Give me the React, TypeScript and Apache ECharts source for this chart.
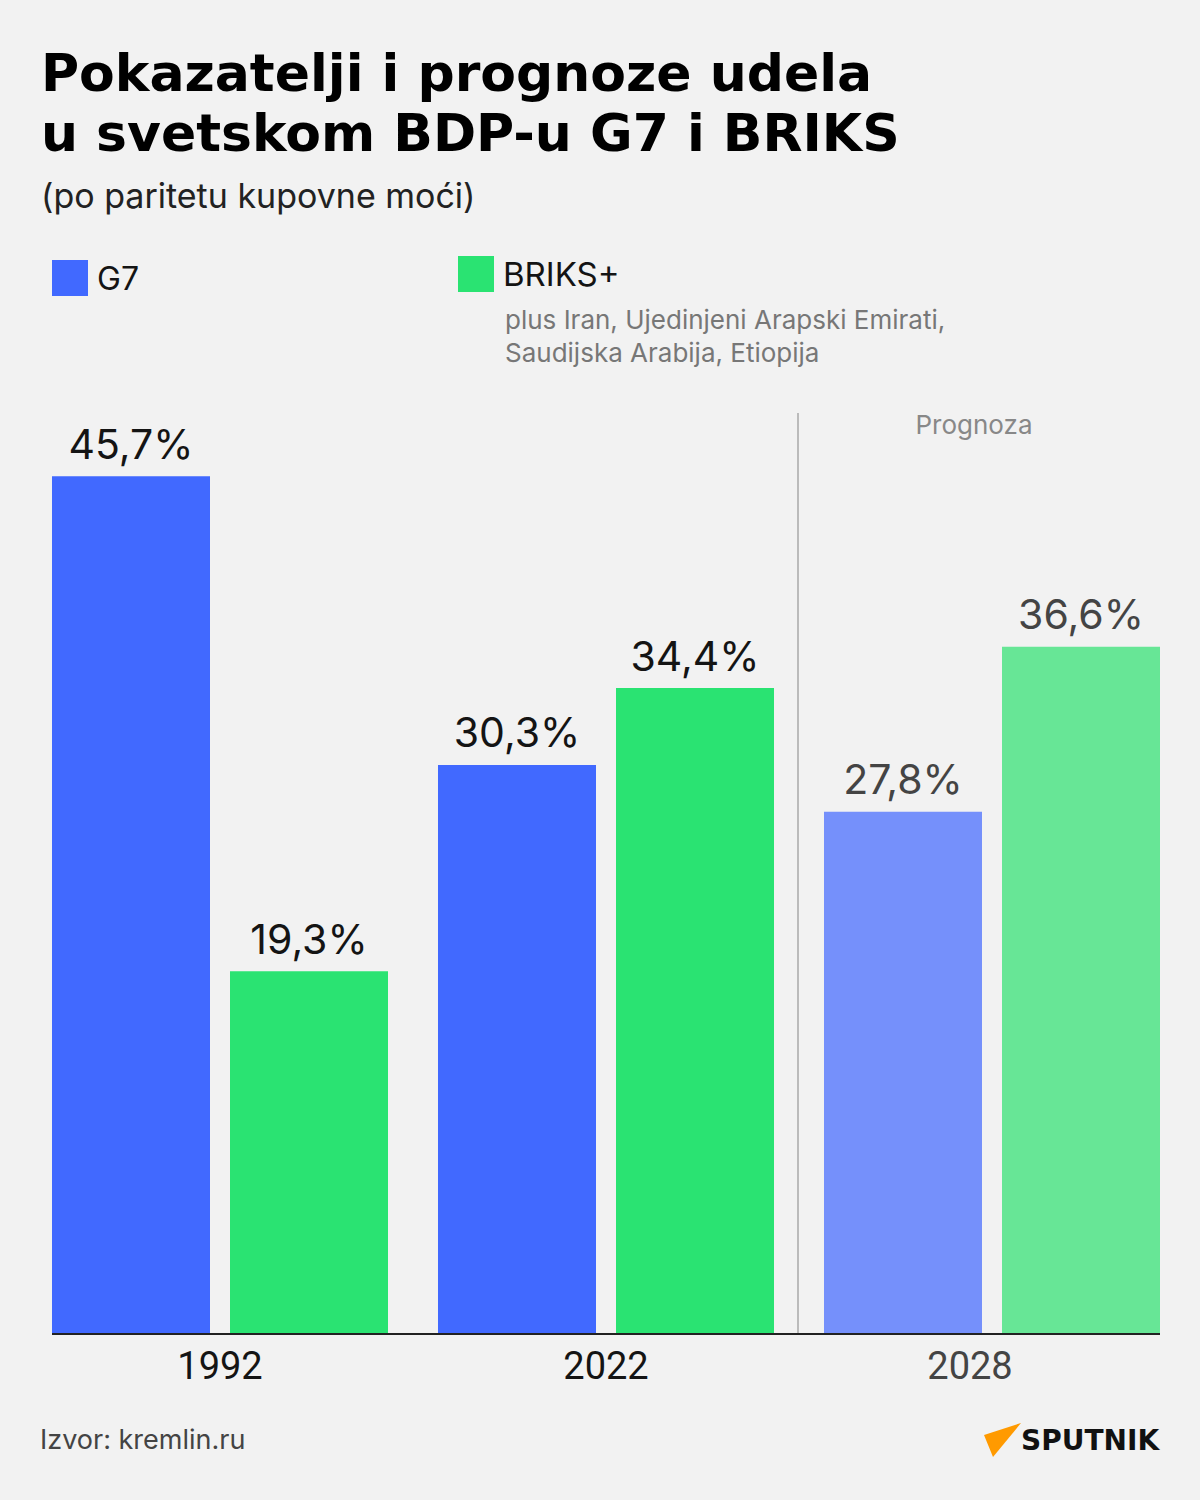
import React, { useEffect, useRef } from "react";
import * as echarts from "echarts";

const years = ["1992", "2022", "2028"];
const g7Values = [45.7, 30.3, 27.8];
const briksValues = [19.3, 34.4, 36.6];
const forecastYear = "2028";

const titleLines = ["Pokazatelji i prognoze udela", "u svetskom BDP-u G7 i BRIKS"];
const subtitle = "(po paritetu kupovne moći)";
const briksNote = ["plus Iran, Ujedinjeni Arapski Emirati,", "Saudijska Arabija, Etiopija"];
const source = "Izvor: kremlin.ru";

const C = {
  bg: "#f2f2f2",
  g7: "#4169ff",
  g7f: "#7590fb",
  br: "#2ae372",
  brf: "#67e696",
  text: "#141414",
  textF: "#444444",
};

const FONT = "Inter, 'Noto Sans', sans-serif";
const YFONT = "Roboto, sans-serif";

function fmt(v: number) {
  return v.toFixed(1).replace(".", ",") + "%";
}

function makeData(vals: number[], forecastColor: string) {
  return vals.map((v, i) =>
    years[i] === forecastYear
      ? { value: v, itemStyle: { color: forecastColor }, label: { color: C.textF } }
      : v
  );
}

export default function App() {
  const ref = useRef<HTMLDivElement>(null);
  useEffect(() => {
    document.body.style.margin = "0";
    const chart = echarts.init(ref.current!, undefined, { renderer: "svg" });
    const labelCfg = {
      show: true,
      position: "top",
      distance: 12,
      fontFamily: FONT,
      fontWeight: 400,
      fontSize: 41,
      color: C.text,
      formatter: (p: any) => fmt(p.value),
    };
    chart.setOption({
      animation: false,
      backgroundColor: C.bg,
      title: [
        {
          text: titleLines.join("\n"),
          left: 41,
          top: 43,
          padding: 0,
          textStyle: { fontFamily: "'DejaVu Sans', sans-serif", fontWeight: 700, fontSize: 52, lineHeight: 60, color: "#000" },
        },
        {
          text: subtitle,
          left: 41,
          top: 178,
          padding: 0,
          textStyle: { fontFamily: FONT, fontWeight: 400, fontSize: 34, color: "#222" },
        },
        {
          text: "Prognoza",
          left: 974,
          textAlign: "center",
          top: 411,
          padding: 0,
          textStyle: { fontFamily: FONT, fontWeight: 400, fontSize: 26, color: "#888" },
        },
        {
          text: source,
          left: 40,
          top: 1426,
          padding: 0,
          textStyle: { fontFamily: FONT, fontWeight: 400, fontSize: 27, color: "#444" },
        },
      ],
      legend: [
        {
          data: ["G7"],
          left: 52,
          top: 260,
          padding: 0,
          icon: "rect",
          itemWidth: 36,
          itemHeight: 36,
          textStyle: { fontFamily: FONT, fontSize: 32, color: C.text, padding: [0, 0, 0, 4] },
          selectedMode: false,
        },
        {
          data: ["BRIKS+"],
          left: 458,
          top: 256,
          padding: 0,
          icon: "rect",
          itemWidth: 36,
          itemHeight: 36,
          textStyle: { fontFamily: FONT, fontSize: 33, color: C.text, padding: [8, 0, 0, 4] },
          selectedMode: false,
        },
      ],
      grid: { left: 27, right: 15, top: 395.5, bottom: 167 },
      xAxis: {
        type: "category",
        data: years,
        axisLine: { show: false },
        axisTick: { show: false },
        axisLabel: {
          margin: 14,
          fontFamily: YFONT,
          fontSize: 38,
          color: C.text,
          formatter: (v: string) => (v === forecastYear ? `{f|${v}}` : `{n|${v}}`),
          rich: {
            n: { fontFamily: YFONT, fontSize: 38, color: C.text },
            f: { fontFamily: YFONT, fontSize: 38, color: C.textF, padding: [0, 44, 0, 0] },
          },
        },
      },
      yAxis: { type: "value", min: 0, max: 50, show: false, splitLine: { show: false } },
      series: [
        {
          name: "G7",
          type: "bar",
          barWidth: 158,
          barGap: "12.66%",
          itemStyle: { color: C.g7 },
          label: labelCfg,
          data: makeData(g7Values, C.g7f),
        },
        {
          name: "BRIKS+",
          type: "bar",
          barWidth: 158,
          barGap: "12.66%",
          itemStyle: { color: C.br },
          label: labelCfg,
          data: makeData(briksValues, C.brf),
        },
      ],
      graphic: [
        {
          type: "text",
          left: 505,
          top: 303,
          style: {
            text: briksNote.join("\n"),
            font: `400 26px ${FONT}`,
            lineHeight: 33,
            fill: "#777",
          },
        },
        {
          type: "line",
          shape: { x1: 798, y1: 413, x2: 798, y2: 1333 },
          style: { stroke: "#bbbbbb", lineWidth: 2 },
          z: 0,
        },
        {
          type: "line",
          shape: { x1: 52, y1: 1334, x2: 1160, y2: 1334 },
          style: { stroke: "#222", lineWidth: 2 },
          z: 10,
        },
        {
          type: "polygon",
          shape: { points: [[984, 1435], [1021, 1423], [993, 1457]] },
          style: { fill: "#ff9a00" },
        },
        {
          type: "text",
          left: 1021,
          top: 1426,
          style: {
            text: "SPUTNIK",
            font: `800 28px 'DejaVu Sans', sans-serif`,
            fill: "#111",
          },
        },
      ],
    });
    return () => chart.dispose();
  }, []);
  return <div ref={ref} style={{ width: 1200, height: 1500 }} />;
}
